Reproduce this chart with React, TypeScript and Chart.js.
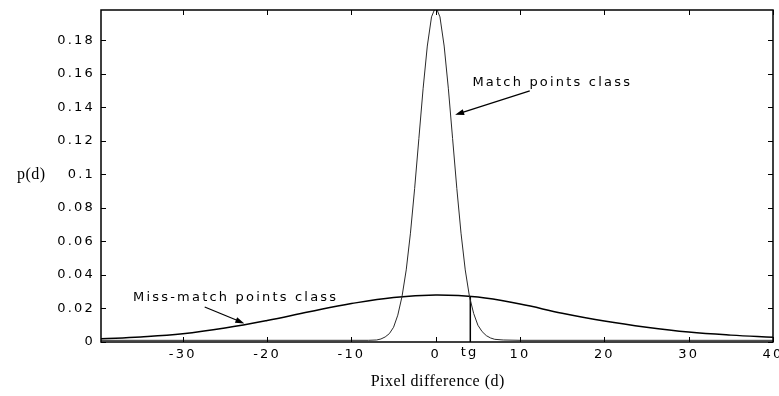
import React, { useEffect, useRef } from 'react';
import { Chart, registerables } from 'chart.js';

Chart.register(...registerables);

const SANS = '"DejaVu Sans", "Liberation Sans", sans-serif';
const SERIF = '"Liberation Serif", "Times New Roman", serif';
const SPACING = '2.2px';

const xTicks = [-30, -20, -10, 0, 10, 20, 30, 40];
const yTicks = [0, 0.02, 0.04, 0.06, 0.08, 0.1, 0.12, 0.14, 0.16, 0.18];
const xMin = -39.7;
const xMax = 40;
const yMax = 0.198;

const matchX = [-39.7, -10, -8, -7, -6.5, -6, -5.5, -5, -4.5, -4, -3.5, -3, -2.5, -2, -1.5, -1, -0.5, 0, 0.5, 1, 1.5, 2, 2.5, 3, 3.5, 4, 4.5, 5, 5.5, 6, 6.5, 7, 8, 10, 40];
const matchY = [0.001, 0.001, 0.001, 0.0012, 0.0018, 0.003, 0.005, 0.0088, 0.016, 0.0271, 0.043, 0.0649, 0.0916, 0.1213, 0.151, 0.1765, 0.1939, 0.2, 0.1939, 0.1765, 0.151, 0.1213, 0.0916, 0.0649, 0.043, 0.0271, 0.017, 0.01, 0.0062, 0.0038, 0.0024, 0.0016, 0.0012, 0.001, 0.001];

const missX = [-39.7, -35, -30, -25, -20, -15, -10, -5, 0, 5, 10, 15, 20, 25, 30, 35, 40];
const missY = [0.0019, 0.003, 0.0049, 0.0083, 0.0128, 0.018, 0.0229, 0.0266, 0.028, 0.0268, 0.0226, 0.0172, 0.0125, 0.0088, 0.0059, 0.0041, 0.0029];

const tgX = [4.1, 4.1];
const tgY = [0, 0.0272];

const matchLabel = 'Match points class';
const missLabel = 'Miss-match points class';
const tgLabel = 'tg';
const yTitle = 'p(d)';
const xTitle = 'Pixel difference (d)';

function arrow(ctx: CanvasRenderingContext2D, x1: number, y1: number, x2: number, y2: number) {
  const ang = Math.atan2(y2 - y1, x2 - x1);
  const len = 9;
  const w = 3;
  ctx.beginPath();
  ctx.moveTo(x1, y1);
  ctx.lineTo(x2 - Math.cos(ang) * len * 0.6, y2 - Math.sin(ang) * len * 0.6);
  ctx.stroke();
  ctx.beginPath();
  ctx.moveTo(x2, y2);
  ctx.lineTo(x2 - Math.cos(ang) * len + Math.sin(ang) * w, y2 - Math.sin(ang) * len - Math.cos(ang) * w);
  ctx.lineTo(x2 - Math.cos(ang) * len - Math.sin(ang) * w, y2 - Math.sin(ang) * len + Math.cos(ang) * w);
  ctx.closePath();
  ctx.fill();
}

export default function App() {
  const ref = useRef<HTMLCanvasElement>(null);
  useEffect(() => {
    document.body.style.margin = '0';
    const canvas = ref.current!;
    const plugin = {
      id: 'matlabStyle',
      beforeUpdate(chart: any) {
        chart.ctx.letterSpacing = SPACING;
      },
      beforeDraw(chart: any) {
        const c = chart.ctx as CanvasRenderingContext2D;
        c.save();
        c.fillStyle = '#ffffff';
        c.fillRect(0, 0, chart.width, chart.height);
        c.restore();
        (c as any).letterSpacing = SPACING;
      },
      afterDraw(chart: any) {
        const c = chart.ctx as CanvasRenderingContext2D;
        const xs = chart.scales.x;
        const ys = chart.scales.y;
        const { left, right, top, bottom } = chart.chartArea;
        c.save();
        c.strokeStyle = '#000';
        c.fillStyle = '#000';
        c.lineWidth = 1.5;
        c.strokeRect(left, top, right - left, bottom - top);
        c.lineWidth = 1;
        const tl = 5;
        xTicks.forEach((v) => {
          const p = Math.round(xs.getPixelForValue(v)) + 0.5;
          c.beginPath();
          c.moveTo(p, bottom);
          c.lineTo(p, bottom - tl);
          c.moveTo(p, top);
          c.lineTo(p, top + tl);
          c.stroke();
        });
        yTicks.forEach((v) => {
          const p = Math.round(ys.getPixelForValue(v)) + 0.5;
          c.beginPath();
          c.moveTo(left, p);
          c.lineTo(left + tl, p);
          c.moveTo(right, p);
          c.lineTo(right - tl, p);
          c.stroke();
        });
        // annotations
        (c as any).letterSpacing = SPACING;
        c.font = '13px ' + SANS;
        c.textBaseline = 'middle';
        c.textAlign = 'left';
        c.fillText(matchLabel, xs.getPixelForValue(4.35), ys.getPixelForValue(0.1546));
        c.fillText(missLabel, xs.getPixelForValue(-35.9), ys.getPixelForValue(0.0263));
        c.textAlign = 'center';
        c.fillText(tgLabel, xs.getPixelForValue(3.9) + 1, bottom + 11);
        c.lineWidth = 1.2;
        arrow(c, xs.getPixelForValue(11.15), ys.getPixelForValue(0.1498), xs.getPixelForValue(2.3), ys.getPixelForValue(0.1355));
        arrow(c, xs.getPixelForValue(-27.4), ys.getPixelForValue(0.0209), xs.getPixelForValue(-22.7), ys.getPixelForValue(0.0111));
        // axis titles
        (c as any).letterSpacing = '0.5px';
        c.font = '16px ' + SERIF;
        c.textAlign = 'left';
        c.fillText(yTitle, 17, ys.getPixelForValue(0.1));
        c.textAlign = 'center';
        c.fillText(xTitle, xs.getPixelForValue(0) + 2, 382);
        c.restore();
        (c as any).letterSpacing = SPACING;
      },
    };
    const chart = new Chart(canvas, {
      type: 'scatter',
      data: {
        datasets: [
          {
            label: 'Match',
            data: matchX.map((x, i) => ({ x, y: matchY[i] })),
            showLine: true,
            borderColor: '#2a2a2a',
            borderWidth: 1,
            pointRadius: 0,
            tension: 0,
          },
          {
            label: 'Miss-match',
            data: missX.map((x, i) => ({ x, y: missY[i] })),
            showLine: true,
            borderColor: '#000000',
            borderWidth: 1.5,
            pointRadius: 0,
            tension: 0.4,
          },
          {
            label: 'tg',
            data: tgX.map((x, i) => ({ x, y: tgY[i] })),
            showLine: true,
            borderColor: '#000000',
            borderWidth: 1.5,
            pointRadius: 0,
          },
        ],
      },
      options: {
        animation: false,
        responsive: false,
        devicePixelRatio: 1,
        layout: { padding: { top: 10, right: 6, bottom: 0, left: 0 } },
        plugins: { legend: { display: false }, tooltip: { enabled: false }, title: { display: false } },
        scales: {
          x: {
            type: 'linear',
            min: xMin,
            max: xMax,
            grid: { display: false, drawTicks: false },
            border: { display: false },
            afterBuildTicks: (s: any) => {
              s.ticks = xTicks.map((v) => ({ value: v }));
            },
            afterFit: (s: any) => {
              s.height = 54;
              s.paddingLeft = 0;
              s.paddingRight = 0;
            },
            ticks: {
              autoSkip: false,
              maxRotation: 0,
              padding: 5,
              color: '#000',
              font: { family: SANS, size: 13 },
              callback: (v: any) => String(v),
            },
          },
          y: {
            type: 'linear',
            min: 0,
            max: yMax,
            grid: { display: false, drawTicks: false },
            border: { display: false },
            afterBuildTicks: (s: any) => {
              s.ticks = yTicks.map((v) => ({ value: v }));
            },
            afterFit: (s: any) => {
              s.width = 101;
              s.paddingTop = 0;
              s.paddingBottom = 0;
            },
            ticks: {
              autoSkip: false,
              padding: 6,
              color: '#000',
              font: { family: SANS, size: 13 },
              callback: (v: any) => String(+Number(v).toFixed(2)),
            },
          },
        },
      },
      plugins: [plugin],
    } as any);
    return () => chart.destroy();
  }, []);
  return <canvas ref={ref} width={779} height={396} style={{ display: 'block' }} />;
}
